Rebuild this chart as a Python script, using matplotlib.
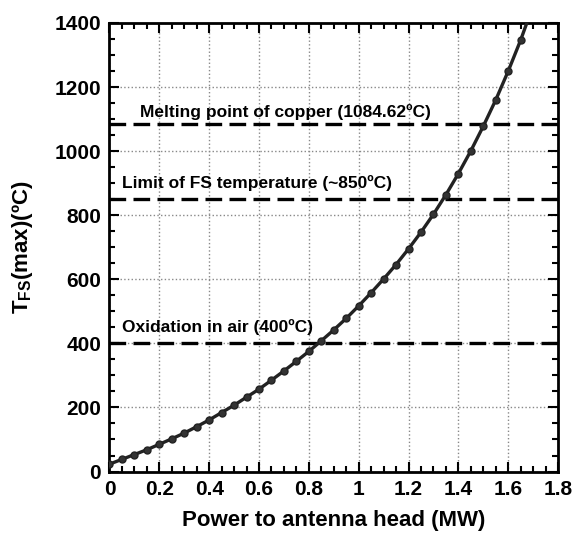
import matplotlib
matplotlib.use("Agg")
import matplotlib.pyplot as plt
import matplotlib.ticker as ticker

plt.rcParams['font.family'] = ['Liberation Sans', 'DejaVu Sans']
plt.rcParams['font.weight'] = 'bold'
plt.rcParams['mathtext.fontset'] = 'custom'
plt.rcParams['mathtext.rm'] = 'Liberation Sans:bold'
plt.rcParams['mathtext.bf'] = 'Liberation Sans:bold'
plt.rcParams['mathtext.it'] = 'Liberation Sans:bold'

# ── Dados ───────────────────────────────────────────────────────────────────
power = [0.00, 0.05, 0.10, 0.15, 0.20, 0.25, 0.30, 0.35, 0.40, 0.45,
         0.50, 0.55, 0.60, 0.65, 0.70, 0.75, 0.80, 0.85, 0.90, 0.95,
         1.00, 1.05, 1.10, 1.15, 1.20, 1.25, 1.30, 1.35, 1.40, 1.45,
         1.50, 1.55, 1.60, 1.65, 1.70]
t_fs = [23, 38, 53, 68, 85, 102, 120, 140, 161, 184,
        207, 232, 257, 285, 314, 344, 375, 408, 442, 478,
        517, 558, 601, 646, 695, 747, 803, 864, 930, 1001,
        1078, 1160, 1250, 1347, 1455]

limites = [1084.62, 850, 400]
rotulos = ['Melting point of copper (1084.62ºC)',
           'Limit of FS temperature (~850ºC)',
           'Oxidation in air (400ºC)']
rot_x = [0.123, 0.05, 0.05]
rot_y = [1122, 900, 452]

fig = plt.figure(figsize=(5.73, 5.34), dpi=100)
ax = fig.add_axes([0.191, 0.117, 0.783, 0.840])

ax.plot(power, t_fs, color='#222222', linewidth=2.4, marker='o',
        markersize=5, markerfacecolor='#333333', markeredgecolor='#222222',
        zorder=4)

for lim, txt, tx, ty in zip(limites, rotulos, rot_x, rot_y):
    ax.axhline(lim, color='black', linewidth=2.4, linestyle=(0, (5, 2.2)),
               zorder=3)
    ax.text(tx, ty, txt, fontsize=12.5, fontweight='bold', va='center',
            ha='left', zorder=5)

ax.set_xlim(0, 1.8)
ax.set_ylim(0, 1400)
ax.xaxis.set_major_locator(ticker.MultipleLocator(0.2))
ax.xaxis.set_minor_locator(ticker.MultipleLocator(0.05))
ax.yaxis.set_major_locator(ticker.MultipleLocator(200))
ax.yaxis.set_minor_locator(ticker.MultipleLocator(50))
ax.xaxis.set_major_formatter(ticker.FuncFormatter(lambda v, p: f'{v:g}'))

ax.tick_params(which='both', direction='in', top=True, right=True,
               labelsize=15, width=1.5)
ax.tick_params(which='major', length=7, pad=6)
ax.tick_params(which='minor', length=4)
for s in ax.spines.values():
    s.set_linewidth(2)

ax.grid(True, which='major', linestyle=':', color='#888888', linewidth=1)
ax.set_axisbelow(True)

ax.set_xlabel('Power to antenna head (MW)', fontsize=16, fontweight='bold',
              labelpad=8)
ax.set_ylabel(r'T$_{\mathregular{FS}}$(max)(ºC)', fontsize=16,
              fontweight='bold', labelpad=14)

fig.savefig('out.png', dpi=100)
